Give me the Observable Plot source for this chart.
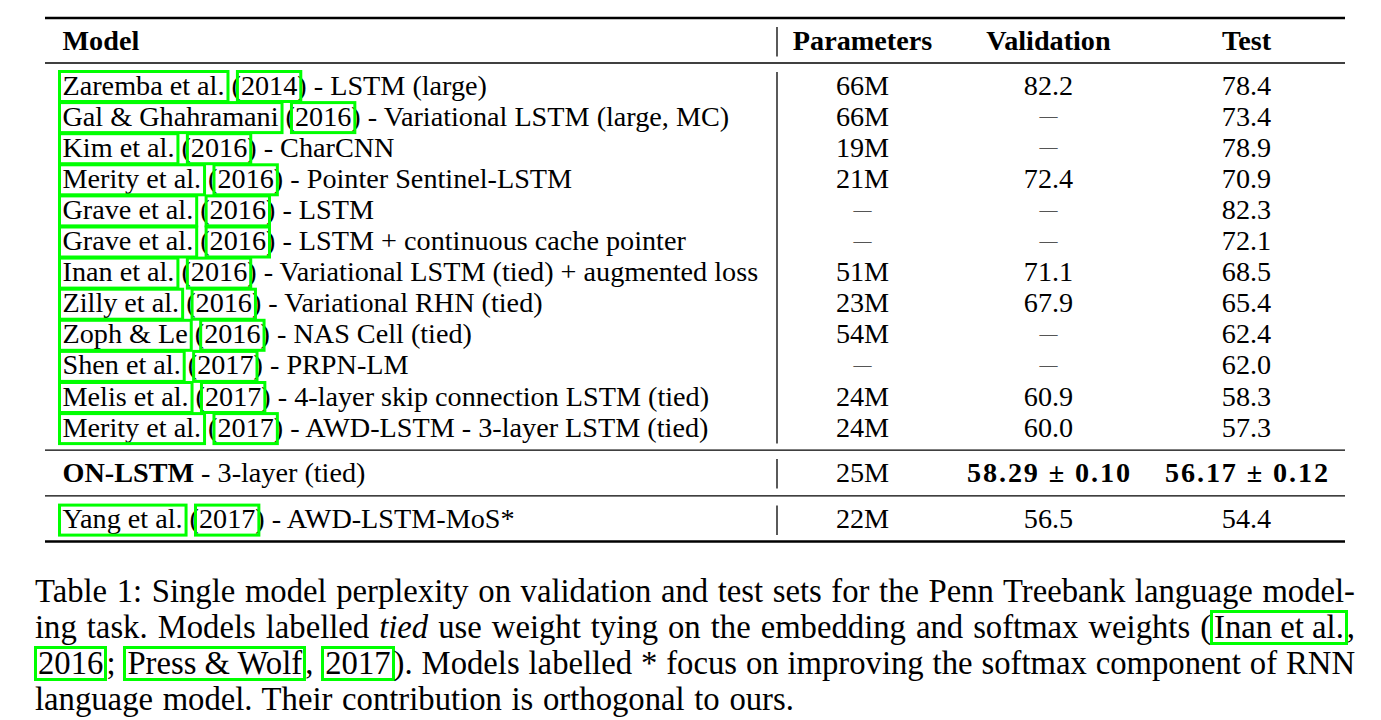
<!DOCTYPE html>
<html>
<head>
<meta charset="utf-8">
<script src="https://cdn.jsdelivr.net/npm/d3@7"></script>
<script src="https://cdn.jsdelivr.net/npm/@observablehq/plot@0.6"></script>
<style>
  html, body { margin: 0; padding: 0; background: #fff; }
  #root { width: 1381px; }
  #cap { font-family: "Liberation Serif", serif; font-size: 32.7px; line-height: 36px; color: #000;
         margin: 0 0 0 35px; width: 1320px; padding-top: 13px; }
  #cap .ln { text-align: justify; text-align-last: justify; white-space: nowrap; }
  #cap .ln.last { text-align-last: left; word-spacing: 1.5px; }
  #cap .lk { display: inline-block; line-height: 29px; border: 3px solid #00ff00; padding: 0 1px; margin: 0 -1px; }
</style>
</head>
<body>
<div id="root"></div>
<script>
// ---------- data ----------
const headers = ["Model", "Parameters", "Validation", "Test"];
const citeNames = ["Zaremba et al.", "Gal & Ghahramani", "Kim et al.", "Merity et al.", "Grave et al.", "Grave et al.",
  "Inan et al.", "Zilly et al.", "Zoph & Le", "Shen et al.", "Melis et al.", "Merity et al."];
const citeYears = ["2014", "2016", "2016", "2016", "2016", "2016", "2016", "2016", "2016", "2017", "2017", "2017"];
const descriptions = ["LSTM (large)", "Variational LSTM (large, MC)", "CharCNN", "Pointer Sentinel-LSTM", "LSTM",
  "LSTM + continuous cache pointer", "Variational LSTM (tied) + augmented loss", "Variational RHN (tied)",
  "NAS Cell (tied)", "PRPN-LM", "4-layer skip connection LSTM (tied)", "AWD-LSTM - 3-layer LSTM (tied)"];
const parameters = ["66M", "66M", "19M", "21M", "–", "–", "51M", "23M", "54M", "–", "24M", "24M"];
const validation = ["82.2", "–", "–", "72.4", "–", "–", "71.1", "67.9", "–", "–", "60.9", "60.0"];
const test = ["78.4", "73.4", "78.9", "70.9", "82.3", "72.1", "68.5", "65.4", "62.4", "62.0", "58.3", "57.3"];
const oursModel = ["ON-LSTM", " - 3-layer (tied)"];
const oursValues = ["25M", "58.29 ± 0.10", "56.17 ± 0.12"];
const mosCite = ["Yang et al.", "2017"];
const mosDescription = "AWD-LSTM-MoS*";
const mosValues = ["22M", "56.5", "54.4"];
const captionLines = [
  "Table 1: Single model perplexity on validation and test sets for the Penn Treebank language model-",
  "ing task. Models labelled <i>tied</i> use weight tying on the embedding and softmax weights ([Inan et al.],",
  "[2016]; [Press &amp; Wolf], [2017]). Models labelled * focus on improving the softmax component of RNN",
  "language model. Their contribution is orthogonal to ours."
];

// ---------- layout ----------
const W = 1381, H = 560;
const FONT = "Liberation Serif";
const FS = 28.2;
const left = 45, right = 1345;
const modelX = 62;
const colX = [862, 1048, 1246];
const vlineX = 776.5;
const boldValueWidth = 163;
const headerY = 40, pitch = 31.1, blockGap = 45;
const bodyY = i => headerY + blockGap + i * pitch;
const oursY = bodyY(citeNames.length - 1) + blockGap;
const mosY = oursY + 46.5;
const rulesThick = [17.5, 541];
const rulesThin = [(headerY + bodyY(0)) / 2, (bodyY(citeNames.length - 1) + oursY) / 2, (oursY + mosY) / 2];
const vsegs = [[headerY, headerY], [bodyY(0), bodyY(citeNames.length - 1)], [oursY, oursY], [mosY, mosY]]
  .map(([a, b]) => ({y1: a - 13, y2: b + 16.5}));

// text measurement for link boxes
const ctx = document.createElement("canvas").getContext("2d");
const measure = (s, weight = "normal", size = FS) => { ctx.font = `${weight} ${size}px "${FONT}"`; return ctx.measureText(s).width; };

const rows = citeNames.map((n, i) => ({
  text: `${n} (${citeYears[i]}) - ${descriptions[i]}`, name: n, year: citeYears[i], y: bodyY(i)
}));
rows.push({text: `${mosCite[0]} (${mosCite[1]}) - ${mosDescription}`, name: mosCite[0], year: mosCite[1], y: mosY});

const boxes = [];
for (const r of rows) {
  const wName = measure(r.name);
  const wPre = measure(r.name + " (");
  const wYear = measure(r.year);
  boxes.push({x1: modelX - 2.5, x2: modelX + wName + 4, y1: r.y - 13.5, y2: r.y + 16.5});
  boxes.push({x1: modelX + wPre - 3, x2: modelX + wPre + wYear + 4, y1: r.y - 13.5, y2: r.y + 16.5});
}

const cells = [];
citeNames.forEach((_, i) => {
  [parameters[i], validation[i], test[i]].forEach((v, j) => cells.push({x: colX[j], y: bodyY(i), v}));
});
mosValues.forEach((v, j) => cells.push({x: colX[j], y: mosY, v}));
const normalCells = cells.filter(d => d.v !== "–");
const dashCells = cells.filter(d => d.v === "–");

const headerCells = headers.map((h, j) => ({x: j === 0 ? modelX : colX[j - 1], y: headerY, v: h, anchor: j === 0 ? "start" : "middle"}));
const oursBoldW = measure(oursModel[0], "bold");

const chart = Plot.plot({
  width: W, height: H, margin: 0,
  x: {type: "identity", axis: null},
  y: {type: "identity", axis: null},
  style: {fontFamily: FONT, background: "#fff", color: "#000"},
  marks: [
    Plot.ruleY(rulesThick, {x1: left, x2: right, stroke: "#000", strokeWidth: 2.4}),
    Plot.ruleY(rulesThin, {x1: left, x2: right, stroke: "#000", strokeWidth: 1.3}),
    Plot.ruleX(vsegs, {x: vlineX, y1: "y1", y2: "y2", stroke: "#000", strokeWidth: 1.3}),
    Plot.text(headerCells.filter(d => d.anchor === "start"), {x: "x", y: "y", text: "v", textAnchor: "start", lineAnchor: "middle", fontSize: FS, fontWeight: "bold", fill: "#000"}),
    Plot.text(headerCells.filter(d => d.anchor === "middle"), {x: "x", y: "y", text: "v", textAnchor: "middle", lineAnchor: "middle", fontSize: FS, fontWeight: "bold", fill: "#000"}),
    Plot.text(rows, {x: modelX, y: "y", text: "text", textAnchor: "start", lineAnchor: "middle", fontSize: FS, fill: "#000"}),
    Plot.text(normalCells, {x: "x", y: "y", text: "v", textAnchor: "middle", lineAnchor: "middle", fontSize: FS, fill: "#000"}),
    Plot.text(dashCells, {x: "x", y: "y", text: () => "—", textAnchor: "middle", lineAnchor: "middle", fontSize: 18, fill: "#555"}),
    Plot.text([oursModel[0]], {x: modelX, y: oursY, text: d => d, textAnchor: "start", lineAnchor: "middle", fontSize: FS, fontWeight: "bold", fill: "#000"}),
    Plot.text([oursModel[1]], {x: modelX + oursBoldW, y: oursY, text: d => d, textAnchor: "start", lineAnchor: "middle", fontSize: FS, fill: "#000"}),
    Plot.text([oursValues[0]], {x: colX[0], y: oursY, text: d => d, textAnchor: "middle", lineAnchor: "middle", fontSize: FS, fill: "#000"}),
    Plot.text(oursValues.slice(1).map((v, j) => ({v, x: colX[j + 1]})), {x: "x", y: oursY, text: "v", textAnchor: "middle", lineAnchor: "middle", fontSize: FS, fontWeight: "bold", fill: "#000"}),
    Plot.rect(boxes, {x1: "x1", x2: "x2", y1: "y1", y2: "y2", fill: "none", stroke: "#00ff00", strokeWidth: 3})
  ]
});

// bold math values in the reference are set wider (Computer Modern bold)
d3.select(chart).selectAll("text").filter(function () { return /±/.test(this.textContent); })
  .attr("textLength", boldValueWidth).attr("lengthAdjust", "spacing");

const root = document.getElementById("root");
root.appendChild(chart);
const cap = document.createElement("div");
cap.id = "cap";
cap.innerHTML = captionLines.map((l, i) =>
  `<div class="ln${i === captionLines.length - 1 ? " last" : ""}">${l.replace(/\[([^\]]+)\]/g, '<span class="lk">$1</span>')}</div>`
).join("");
root.appendChild(cap);
</script>
</body>
</html>
